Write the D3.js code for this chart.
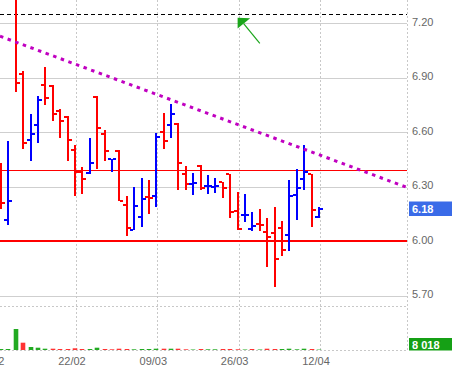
<!DOCTYPE html>
<html><head><meta charset="utf-8">
<script src="https://cdn.jsdelivr.net/npm/d3@7"></script>
<style>
html,body{margin:0;padding:0;background:#fff;}
svg{display:block;font-family:Arial,"Liberation Sans",sans-serif;}
</style></head>
<body>
<svg id="c" width="460" height="381"></svg>
<script>
// ---- data ----
const opens  = [6.40,6.12,7.38,6.92,6.56,6.64,6.86,6.855,6.72,6.685,6.50,6.38,6.378,6.795,6.59,6.455,6.495,6.20,6.062,6.135,6.245,6.25,6.60,6.64,6.645,6.37,6.315,6.416,6.303,6.300,6.325,6.37,6.167,6.145,6.069,6.097,6.053,6.047,6.075,6.036,6.257,6.343,6.37,6.134];
const highs  = [6.43,6.55,7.42,6.94,6.70,6.80,6.96,6.86,6.73,6.69,6.53,6.41,6.57,6.80,6.61,6.455,6.50,6.25,6.30,6.347,6.34,6.595,6.705,6.756,6.65,6.414,6.374,6.42,6.365,6.348,6.325,6.37,6.273,6.259,6.161,6.178,6.127,6.19,6.112,6.34,6.398,6.528,6.37,6.187];
const lows   = [6.18,6.09,6.82,6.51,6.44,6.54,6.75,6.66,6.57,6.44,6.25,6.26,6.37,6.40,6.44,6.38,6.22,6.03,6.06,6.08,6.15,6.19,6.51,6.57,6.28,6.28,6.255,6.28,6.26,6.264,6.24,6.131,6.062,6.108,6.059,6.058,5.86,5.75,5.921,5.948,6.119,6.281,6.08,6.126];
const closes = [6.21,6.22,6.87,6.54,6.59,6.78,6.79,6.70,6.66,6.56,6.38,6.345,6.43,6.625,6.495,6.455,6.222,6.075,6.196,6.235,6.238,6.576,6.554,6.70,6.43,6.315,6.322,6.296,6.303,6.304,6.295,6.16,6.068,6.145,6.083,6.088,6.025,5.903,5.954,6.248,6.296,6.383,6.174,6.18];
const volumes = [20000,20000,420000,146000,60000,46000,26000,26000,20000,20000,34000,20000,20000,46000,20000,14000,26000,20000,14000,20000,20000,26000,26000,26000,26000,14000,10000,20000,14000,14000,20000,20000,14000,10000,20000,10000,26000,20000,20000,26000,14000,26000,20000,8018];
const prevClose = 6.20;
const priceTicks = [5.70,6.00,6.30,6.60,6.90,7.20];
const dateIdx = [-1,10,21,32,43];
const dateLabels = ["05/02","22/02","09/03","26/03","12/04"];
const supportLevels = [6.00];
const resistLevels = [6.39];
const targetLevel = 7.25;
const trendPts = [[0,7.127],[55,6.295]];
const arrowTip = [32,7.231], arrowTail = [35,7.09];

// ---- layout ----
const W = 407;
const svg = d3.select("#c");
const x = d3.scaleLinear().domain([0,55]).range([1, 1+7.395*55]);
const y = d3.scaleLinear().domain([5.70,7.20]).range([295.8,23.3]);
const yv = d3.scaleLinear().domain([0,880000]).range([350,306]);
const RED="#ff0000", BLUE="#0000ff", GREEN="#22aa22";

svg.append("rect").attr("width",460).attr("height",381).attr("fill","#fff");
const defs = svg.append("defs");
defs.append("clipPath").attr("id","pc").append("rect").attr("x",0).attr("y",0).attr("width",W).attr("height",300);

// horizontal grid
svg.append("g").selectAll("line").data(priceTicks).join("line")
  .attr("x1",0).attr("x2",W).attr("y1",d=>Math.round(y(d))+0.5).attr("y2",d=>Math.round(y(d))+0.5)
  .attr("stroke","#cfcfcf").attr("stroke-width",1);
// vertical grid
svg.append("g").selectAll("line").data(dateIdx).join("line")
  .attr("x1",d=>Math.round(x(d))+1.5).attr("x2",d=>Math.round(x(d))+1.5).attr("y1",0).attr("y2",350)
  .attr("stroke","#c8c8c8").attr("stroke-dasharray","2,2");
// panel borders
svg.append("line").attr("x1",W+0.5).attr("x2",W+0.5).attr("y1",0).attr("y2",350)
  .attr("stroke","#c8c8c8").attr("stroke-dasharray","2,2");
[306.5,350.5].forEach(v=>svg.append("line").attr("x1",0).attr("x2",W).attr("y1",v).attr("y2",v)
  .attr("stroke","#c8c8c8").attr("stroke-dasharray","2,2"));

const pg = svg.append("g").attr("clip-path","url(#pc)");

// level lines
pg.selectAll(".sup").data(supportLevels).join("line")
  .attr("x1",0).attr("x2",W).attr("y1",d=>Math.round(y(d))).attr("y2",d=>Math.round(y(d)))
  .attr("stroke",RED).attr("stroke-width",2.2);
pg.selectAll(".res").data(resistLevels).join("line")
  .attr("x1",0).attr("x2",W).attr("y1",d=>Math.round(y(d))+0.5).attr("y2",d=>Math.round(y(d))+0.5)
  .attr("stroke",RED).attr("stroke-width",1);
pg.append("line").attr("x1",0).attr("x2",W)
  .attr("y1",Math.round(y(targetLevel))+0.5).attr("y2",Math.round(y(targetLevel))+0.5)
  .attr("stroke","#000").attr("stroke-dasharray","4,3");

// OHLC bars
const bars = opens.map((o,i)=>({i,o,h:highs[i],l:lows[i],c:closes[i]}));
const bg = pg.append("g").attr("shape-rendering","crispEdges");
bars.forEach(b=>{
  const cx = Math.round(x(b.i));
  const col = b.c >= b.o ? BLUE : RED;
  const g = bg.append("g").attr("fill",col);
  g.append("rect").attr("x",cx-1).attr("width",2)
    .attr("y",Math.round(y(b.h))).attr("height",Math.max(1,Math.round(y(b.l))-Math.round(y(b.h))));
  g.append("rect").attr("x",cx-4).attr("width",3).attr("y",Math.round(y(b.o))-1).attr("height",2);
  g.append("rect").attr("x",cx+1).attr("width",3).attr("y",Math.round(y(b.c))-1).attr("height",2);
});

// trend line
pg.append("line")
  .attr("x1",x(trendPts[0][0])-1).attr("y1",y(trendPts[0][1]) - 0.372)
  .attr("x2",x(trendPts[1][0])).attr("y2",y(trendPts[1][1]))
  .attr("stroke","#c000c0").attr("stroke-width",3).attr("stroke-dasharray","3.5,4.6");

// arrow
const tx = x(arrowTip[0]), ty = y(arrowTip[1]);
pg.append("line").attr("x1",x(arrowTail[0])).attr("y1",y(arrowTail[1]))
  .attr("x2",tx+6).attr("y2",ty+6).attr("stroke","#1aa51a").attr("stroke-width",1.2);
pg.append("path").attr("d",`M${tx},${ty}L${tx+12.5},${ty+0.6}L${tx},${ty+10.8}Z`).attr("fill","#1aa51a");

// volume
svg.append("g").selectAll("rect").data(volumes).join("rect")
  .attr("x",(d,i)=>Math.round(x(i))-2.3).attr("width",4.6)
  .attr("y",d=>yv(d)).attr("height",d=>350-yv(d))
  .attr("fill",(d,i)=>closes[i] >= (i?closes[i-1]:prevClose) ? GREEN : "#ff3333");

// right price axis
const ay = svg.append("g").attr("transform",`translate(${W},0)`)
  .call(d3.axisRight(y).tickValues(priceTicks).tickFormat(d3.format(".2f")).tickSize(0).tickPadding(5));
ay.select(".domain").remove();
ay.selectAll("text").attr("fill","#666").attr("font-size",11).attr("dy","0.16em").attr("font-family","Arial,'Liberation Sans',sans-serif");

// date axis
const ax = svg.append("g").attr("transform","translate(0,350)")
  .call(d3.axisBottom(x).tickValues(dateIdx).tickFormat((d,i)=>dateLabels[i]).tickSize(0).tickPadding(7));
ax.select(".domain").remove();
ax.selectAll("text").attr("fill","#666").attr("font-size",11).attr("dx","-3.5").attr("font-family","Arial,'Liberation Sans',sans-serif");

// last value labels
const lastC = closes[closes.length-1];
const lg = svg.append("g");
lg.append("rect").attr("x",409).attr("y",Math.round(y(lastC))-7.5).attr("width",43).attr("height",14.5).attr("fill","#3a6be8");
lg.append("text").attr("x",412).attr("y",Math.round(y(lastC))+4).attr("fill","#fff").attr("font-weight","bold").attr("font-size",11).text(d3.format(".2f")(lastC));
const lastV = volumes[volumes.length-1];
lg.append("rect").attr("x",409).attr("y",338).attr("width",43).attr("height",12.5).attr("fill","#15a015");
lg.append("text").attr("x",412).attr("y",348.5).attr("fill","#fff").attr("font-weight","bold").attr("font-size",11)
  .text(d3.format(",")(lastV).replace(/,/g," "));
</script>
</body></html>
